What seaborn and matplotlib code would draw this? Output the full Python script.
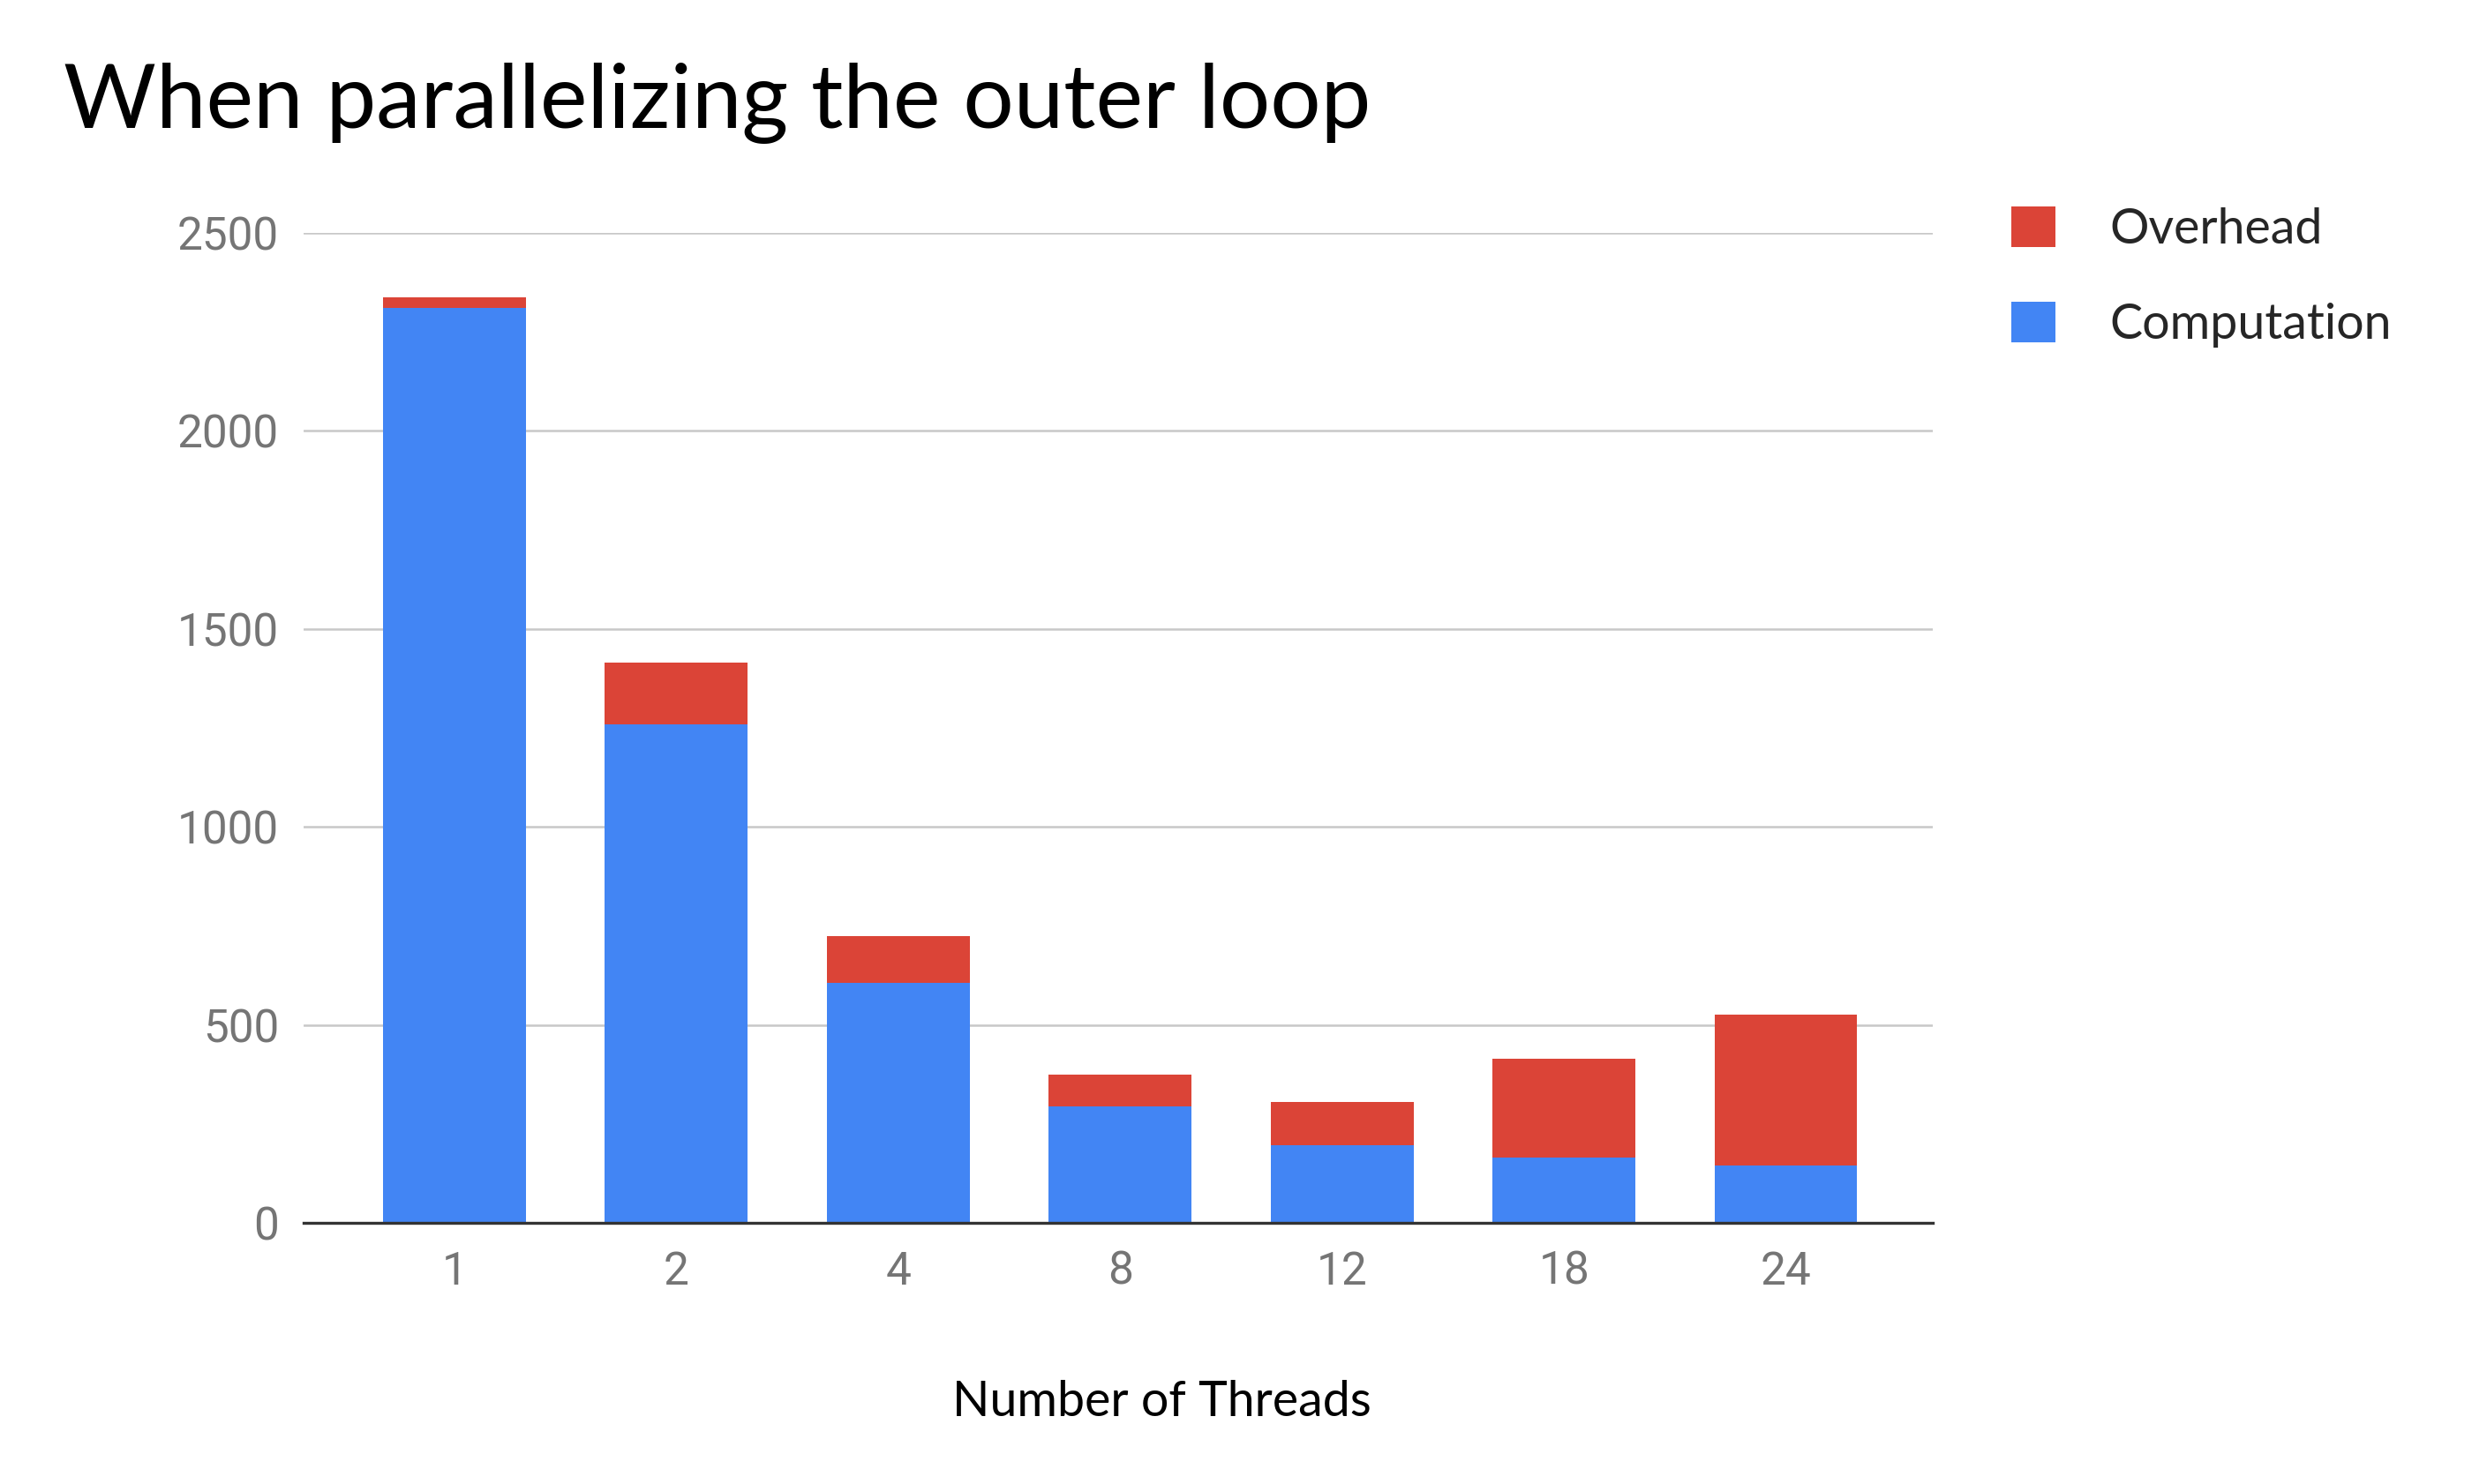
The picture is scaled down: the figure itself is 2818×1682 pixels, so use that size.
import pandas as pd
import numpy as np
import seaborn as sns
import matplotlib.pyplot as plt
from matplotlib.patches import Patch

threads = ['1', '2', '4', '8', '12', '18', '24']
computation = [2310, 1258, 605, 295, 195, 164, 145]
overhead = [28, 158, 119, 80, 110, 251, 380]

red = '#DB4437'
blue = '#4285F4'

df = pd.DataFrame({'threads': threads, 'computation': computation, 'overhead': overhead})
df['total'] = df['computation'] + df['overhead']

sns.set_style('white')
plt.rcParams['font.family'] = ['Lato', 'DejaVu Sans']

fig = plt.figure(figsize=(28.18, 16.82), dpi=100)
ax = fig.add_axes([0.122, 0.176, 0.655, 0.667])

# stacked: total in red, computation in blue drawn over it
sns.barplot(data=df, x='threads', y='total', order=threads, color=red, width=0.643,
            saturation=1, linewidth=0, ax=ax, zorder=3)
sns.barplot(data=df, x='threads', y='computation', order=threads, color=blue, width=0.643,
            saturation=1, linewidth=0, ax=ax, zorder=4)

ax.set_ylim(0, 2500)
ax.set_xlim(-0.68, 6.66)
ax.set_yticks([0, 500, 1000, 1500, 2000, 2500])
ax.yaxis.grid(True, color='#c8c8c8', linewidth=1.8, zorder=0)
ax.set_axisbelow(True)
for s in ['top', 'right', 'left']:
    ax.spines[s].set_visible(False)
ax.spines['bottom'].set_color('#333333')
ax.spines['bottom'].set_linewidth(2.4)
ax.spines['bottom'].set_zorder(5)

ax.tick_params(axis='both', length=0, labelcolor='#757575', labelsize=37)
ax.tick_params(axis='y', pad=20)
ax.tick_params(axis='x', pad=22)
for lab in ax.get_xticklabels() + ax.get_yticklabels():
    lab.set_family(['Roboto', 'DejaVu Sans'])

ax.set_ylabel('')
ax.set_xlabel('')
fig.text(0.467, 0.046, 'Number of Threads', fontsize=40, color='black', ha='center', va='baseline')
fig.text(0.0255, 0.914, 'When parallelizing the outer loop', fontsize=73, color='black',
         ha='left', va='baseline')

handles = [Patch(facecolor=red, edgecolor='none', label='Overhead'),
           Patch(facecolor=blue, edgecolor='none', label='Computation')]
fig.legend(handles=handles, loc='upper left', bbox_to_anchor=(0.801, 0.874), frameon=False,
           fontsize=40, handlelength=0.9, handleheight=0.9, handletextpad=1.1,
           labelspacing=1.0, borderaxespad=0)

fig.savefig('out.png', dpi=100)
